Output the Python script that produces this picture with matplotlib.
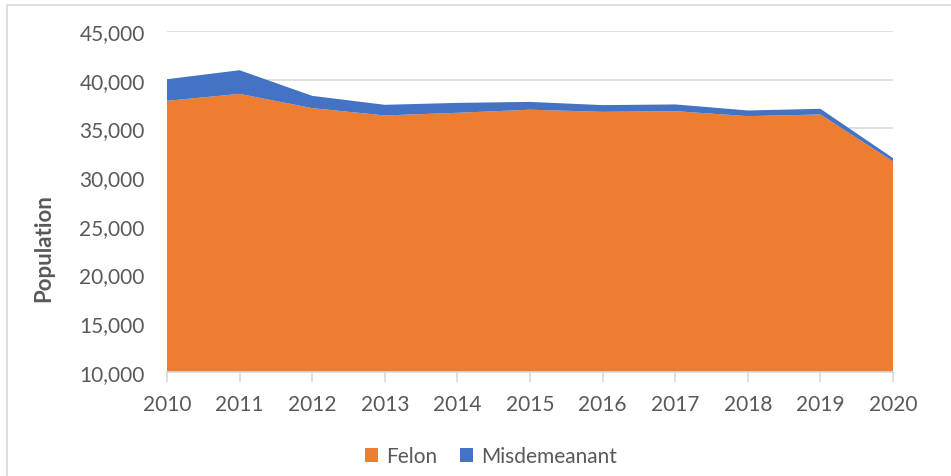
import matplotlib.pyplot as plt
from matplotlib.patches import Rectangle
from matplotlib.ticker import FuncFormatter

plt.rcParams['font.family'] = ['Lato', 'DejaVu Sans']

# data
years = [2010, 2011, 2012, 2013, 2014, 2015, 2016, 2017, 2018, 2019, 2020]
felon = [37830, 38545, 37080, 36330, 36600, 36920, 36700, 36770, 36260, 36430, 31615]
misdemeanant = [2220, 2425, 1260, 1090, 1020, 800, 690, 690, 580, 580, 340]
series_names = ['Felon', 'Misdemeanant']

orange = '#ED7D31'
blue = '#4472C4'
txt = '#595959'

fig = plt.figure(figsize=(9.51, 4.77), dpi=100)
ax = fig.add_axes([0.1756, 0.218, 0.7634, 0.715])

ax.stackplot(years, felon, misdemeanant, colors=[orange, blue],
             labels=series_names, baseline='zero', zorder=2)

ax.set_xlim(years[0], years[-1])
ax.set_ylim(10000, 45000)
ax.set_yticks(range(10000, 45001, 5000))
ax.set_xticks(years)
ax.yaxis.set_major_formatter(FuncFormatter(lambda v, p: f'{int(v):,}'))

ax.grid(axis='y', color='#D9D9D9', linewidth=1.2, zorder=0)
ax.set_axisbelow(True)
for s in ['top', 'right', 'left']:
    ax.spines[s].set_visible(False)
ax.spines['bottom'].set_color('#D9D9D9')
ax.spines['bottom'].set_linewidth(1.2)

ax.tick_params(axis='y', length=0, pad=16, labelsize=15, labelcolor=txt)
ax.tick_params(axis='x', length=7, width=1.2, color='#D9D9D9', pad=9,
               labelsize=15, labelcolor=txt)

ax.set_ylabel('Population', fontsize=16, fontweight='bold', color=txt)
ax.yaxis.set_label_coords(-0.155, 0.367)

# legend with felon first
handles, labels = ax.get_legend_handles_labels()
fig.legend(handles, labels, loc='center', bbox_to_anchor=(0.516, 0.042), ncol=2,
           frameon=False, fontsize=15, labelcolor=txt, handlelength=0.65,
           handleheight=0.65, handletextpad=0.35, columnspacing=1.1)

# chart border
fig.patches.append(Rectangle((7 / 951, -0.05), 1.1, 1 - 6 / 477 + 0.05,
                             transform=fig.transFigure, fill=False,
                             edgecolor='#D9D9D9', linewidth=1.2))

fig.savefig('out.png', dpi=100)
